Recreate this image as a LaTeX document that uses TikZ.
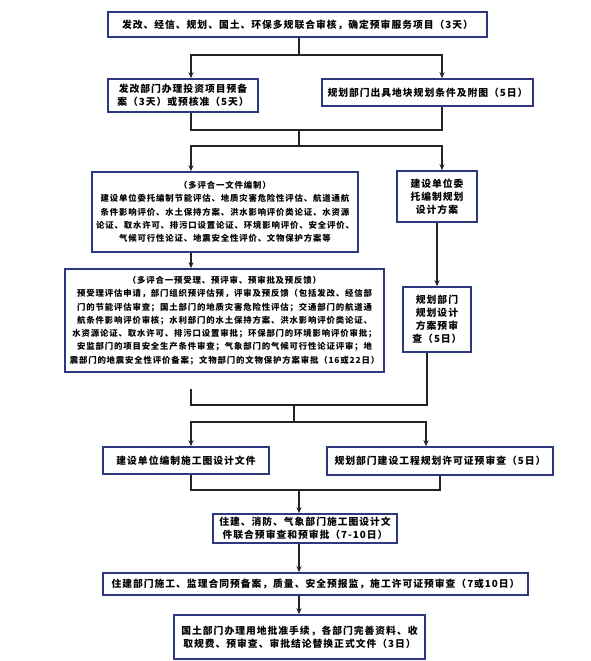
\documentclass[tikz,border=0pt]{standalone}
\usepackage{fontspec}
\newfontfamily\cjk{Noto Sans CJK SC}[LetterSpace=10]
\newfontfamily\cjksmall{Noto Sans CJK SC}[LetterSpace=10]
\usetikzlibrary{arrows.meta,positioning}
\definecolor{boxblue}{RGB}{46,56,128}
\definecolor{linegray}{RGB}{35,35,35}

\begin{document}
\begin{tikzpicture}[
    x=1pt, y=-1pt,
    box/.style={rectangle, draw=boxblue, line width=1.6pt, fill=white, inner sep=0pt, align=center, font=\cjk\bfseries\fontsize{9.8}{13}\selectfont},
    smallbox/.style={box, font=\cjksmall\bfseries\fontsize{8.4}{13.3}\selectfont},
    arrow/.style={draw=linegray, line width=1.1pt, ->, >={Stealth[length=6pt,width=5pt]}},
    line/.style={draw=linegray, line width=1.1pt}
]

\path[fill=white, use as bounding box] (0,0) rectangle (590,661);

% Joint review (top)
\node[box, minimum width=379pt, minimum height=25pt] (review) at (297.5,24.5) {发改、经信、规划、国土、环保多规联合审核，确定预审服务项目（3天）};

% Second row
\node[box, minimum width=150pt, minimum height=33pt] (invest) at (183,95.5) {发改部门办理投资项目预备\\案（3天）或预核准（5天）};
\node[box, minimum width=211pt, minimum height=27pt] (plan) at (427.5,92.5) {规划部门出具地块规划条件及附图（5日）};

% Evaluation / scheme (left and right columns)
\node[smallbox, minimum width=266pt, minimum height=80pt] (evalprep) at (225,212) {
    （多评合一文件编制）\\
    建设单位委托编制节能评估、地质灾害危险性评估、航道通航\\
    条件影响评价、水土保持方案、洪水影响评价类论证、水资源\\
    论证、取水许可、排污口设置论证、环境影响评价、安全评价、\\
    气候可行性论证、地震安全性评价、文物保护方案等
};
\node[box, minimum width=80pt, minimum height=51pt] (scheme) at (437,196.5) {建设单位委\\托编制规划\\设计方案};

\node[smallbox, minimum width=319pt, minimum height=103pt] (evalpre) at (224.5,320.5) {
    （多评合一预受理、预评审、预审批及预反馈）\\
    预受理评估申请，部门组织预评估预，评审及预反馈（包括发改、经信部\\
    门的节能评估审查；国土部门的地质灾害危险性评估；交通部门的航道通\\
    航条件影响评价审核；水利部门的水土保持方案、洪水影响评价类论证、\\
    水资源论证、取水许可、排污口设置审批；环保部门的环境影响评价审批；\\
    安监部门的项目安全生产条件审查；气象部门的气候可行性论证评审；地\\
    震部门的地震安全性评价备案；文物部门的文物保护方案审批（16或22日）
};
\node[box, minimum width=68pt, minimum height=65pt] (schemechk) at (437,319.5) {规划部门\\规划设计\\方案预审\\查（5日）};

% Drawings and permit
\node[box, minimum width=166pt, minimum height=27pt] (drawings) at (186,460.5) {建设单位编制施工图设计文件};
\node[box, minimum width=226pt, minimum height=28pt] (permit) at (440,461) {规划部门建设工程规划许可证预审查（5日）};

% Bottom column
\node[box, minimum width=184pt, minimum height=29pt] (joint) at (305,528.5) {住建、消防、气象部门施工图设计文\\件联合预审查和预审批（7-10日）};
\node[box, minimum width=425pt, minimum height=22pt] (construct) at (315.5,584) {住建部门施工、监理合同预备案，质量、安全预报监，施工许可证预审查（7或10日）};
\node[box, minimum width=251pt, minimum height=44pt] (land) at (299.5,637) {国土部门办理用地批准手续，各部门完善资料、收\\取规费、预审查、审批结论替换正式文件（3日）};

% Junction points
\coordinate (j1) at (299,55);
\coordinate (j1l) at (191,55);
\coordinate (j1r) at (442,55);
\coordinate (m2) at (299,130);
\coordinate (m2l) at (191,130);
\coordinate (m2r) at (442,130);
\coordinate (j2l) at (191,146);
\coordinate (j2r) at (442,146);
\coordinate (gap) at (191,389);
\coordinate (m4) at (294,405);
\coordinate (m4l) at (191,405);
\coordinate (m4r) at (427,405);
\coordinate (j4l) at (191,422);
\coordinate (j4r) at (426,422);
\coordinate (m6) at (299,490);
\coordinate (m6l) at (191,490);
\coordinate (m6r) at (440,490);

% Review splits into two
\draw[line] (review.south -| j1) -- (j1);
\draw[arrow, <->] (invest.north -| j1l) -- (j1l) -- (j1r) -- (plan.north -| j1r);

% Second row merges, then splits again
\draw[line] (invest.south -| m2l) -- (m2l) -- (m2r) -- (plan.south -| m2r);
\draw[line] (m2) -- (m2 |- j2l);
\draw[arrow, <->] (evalprep.north -| j2l) -- (j2l) -- (j2r) -- (scheme.north -| j2r);

% Column flow
\draw[arrow] (evalprep.south -| j2l) -- (evalpre.north -| j2l);
\draw[arrow] (scheme) -- (schemechk);

% Merge and split towards drawings / permit
\draw[line] (gap) -- (m4l) -- (m4r) -- (schemechk.south -| m4r);
\draw[line] (m4) -- (m4 |- j4l);
\draw[arrow, <->] (drawings.north -| j4l) -- (j4l) -- (j4r) -- (permit.north -| j4r);

% Merge towards joint review, then straight down
\draw[line] (drawings.south -| m6l) -- (m6l) -- (m6r) -- (permit.south -| m6r);
\draw[arrow] (m6) -- (joint.north -| m6);
\draw[arrow] (joint.south -| m6) -- (construct.north -| m6);
\draw[arrow] (construct.south -| m6) -- (land.north -| m6);

\end{tikzpicture}
\end{document}
